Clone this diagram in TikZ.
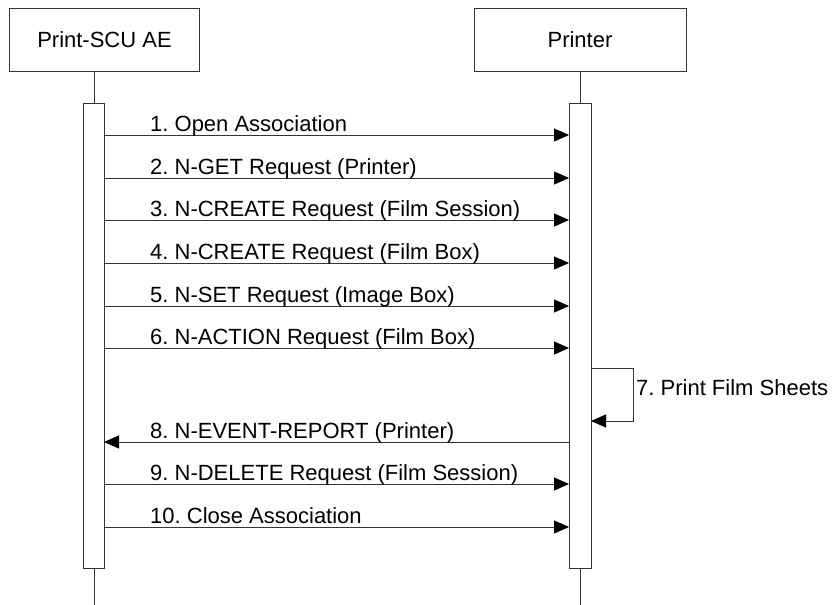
\documentclass[tikz,border=0pt]{standalone}
\usepackage{fontspec}
\setmainfont{Liberation Sans}
\usetikzlibrary{arrows.meta}
\frenchspacing
\begin{document}
\begin{tikzpicture}[x=1pt,y=-1pt,
  line/.style={draw=black!80,line width=1pt},
  actor/.style={line,fill=white,minimum width=190pt,minimum height=63pt,inner sep=0pt,font=\fontsize{22}{26}\selectfont},
  bar/.style={line,fill=white},
  msg/.style={line,-{Triangle[length=15pt,width=13pt,color=black]}},
  lbl/.style={anchor=base west,inner sep=0pt,font=\fontsize{22}{26}\selectfont}]
\useasboundingbox (0,0) rectangle (833,605);
% actors
\node[actor] (scu) at (104.5,39.5) {Print-SCU AE};
\node[actor,minimum width=212pt] (prn) at (580,39.5) {Printer};
% lifelines
\coordinate (l1t) at (94,71);
\coordinate (l1b) at (94,605);
\coordinate (l2t) at (580,71);
\coordinate (l2b) at (580,605);
\draw[line] (l1t) -- (l1b);
\draw[line] (l2t) -- (l2b);
% activation bars
\draw[bar] (83.5,103) rectangle (104,568);
\draw[bar] (569,103) rectangle (591,568);
% messages
\foreach \y/\t [count=\i] in {135/1. Open Association,178/2. N-GET Request (Printer),220/3. N-CREATE Request (Film Session),263/4. N-CREATE Request (Film Box),306/5. N-SET Request (Image Box),348/6. N-ACTION Request (Film Box),484/9. N-DELETE Request (Film Session),527/10. Close Association}{
  \coordinate (a\i) at (104,\y);
  \coordinate (b\i) at (569,\y);
  \draw[msg] (a\i) -- (b\i);
  \node[lbl] (t\i) at (150,\y-3.5) {\t};
}
% self message
\coordinate (s1) at (591,368);
\coordinate (s2) at (633,368);
\coordinate (s3) at (633,421);
\coordinate (s4) at (591,421);
\draw[msg] (s1) -- (s2) -- (s3) -- (s4);
\node[lbl] (t7) at (636,395) {7. Print Film Sheets};
% event report
\coordinate (e1) at (569,442);
\coordinate (e2) at (104,442);
\draw[msg] (e1) -- (e2);
\node[lbl] (t8) at (150,438.5) {8. N-EVENT-REPORT (Printer)};
\end{tikzpicture}
\end{document}
